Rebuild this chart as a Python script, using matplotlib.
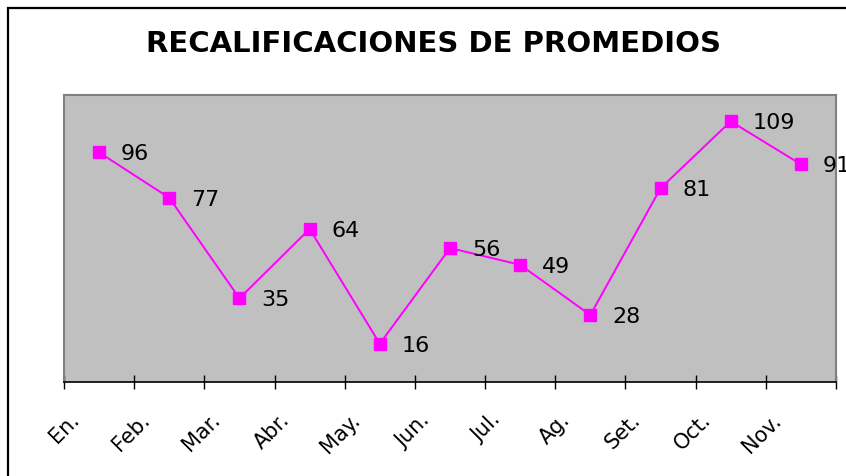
import matplotlib
matplotlib.use("Agg")
import matplotlib.pyplot as plt
import matplotlib.transforms as mtransforms
from matplotlib.patches import Rectangle
import numpy as np

# datos
meses = ["En.", "Feb.", "Mar.", "Abr.", "May.", "Jun.", "Jul.", "Ag.", "Set.", "Oct.", "Nov."]
recalificaciones = [96, 77, 35, 64, 16, 56, 49, 28, 81, 109, 91]

plt.rcParams["font.family"] = ["DejaVu Sans"]

W, H = 846, 476
fig = plt.figure(figsize=(W / 100, H / 100), dpi=100)
fig.patch.set_facecolor("white")

# borde del area del grafico (solo se ve arriba e izquierda)
fig.add_artist(Rectangle((8 / W, -0.2), 1.2, (H - 8) / H + 0.2, fill=False,
                         edgecolor="black", linewidth=1.6, transform=fig.transFigure))

ax = fig.add_axes([64 / W, (H - 382) / H, (836 - 64) / W, (382 - 95) / H])
ax.set_facecolor("#C0C0C0")

x = np.arange(len(meses))
ax.plot(x, recalificaciones, color="#FF00FF", linewidth=1.4, marker="s",
        markersize=9, markerfacecolor="#FF00FF", markeredgecolor="#FF00FF", zorder=3)

for xi, v in zip(x, recalificaciones):
    ax.annotate(str(v), (xi, v), xytext=(22, -8), textcoords="offset pixels",
                ha="left", va="baseline", fontsize=16, color="black",
                annotation_clip=False)

ax.set_xlim(-0.5, len(meses) - 0.5)
ax.set_ylim(0, 120)
ax.set_yticks([])

# marcas entre categorias, etiquetas en el centro
ax.set_xticks(np.arange(-0.5, len(meses)), labels=[])
ax.set_xticks(x, labels=meses, minor=True)
ax.tick_params(axis="x", which="major", direction="inout", length=10, width=1, color="black")
ax.tick_params(axis="x", which="minor", length=0, labelsize=15, pad=0)

offset = mtransforms.ScaledTranslation(-23 / 100, -35 / 100, fig.dpi_scale_trans)
for lbl in ax.get_xticklabels(minor=True):
    lbl.set_rotation(45)
    lbl.set_rotation_mode("anchor")
    lbl.set_ha("right")
    lbl.set_va("center")
    lbl.set_transform(lbl.get_transform() + offset)

for side in ["left", "top", "right"]:
    ax.spines[side].set_color("#808080")
    ax.spines[side].set_linewidth(1.5)
ax.spines["bottom"].set_color("black")
ax.spines["bottom"].set_linewidth(1.2)

fig.text(434 / W, (H - 52) / H, "RECALIFICACIONES DE PROMEDIOS", ha="center", va="baseline",
         fontsize=21, fontweight="bold")

fig.savefig("out.png", dpi=100)
